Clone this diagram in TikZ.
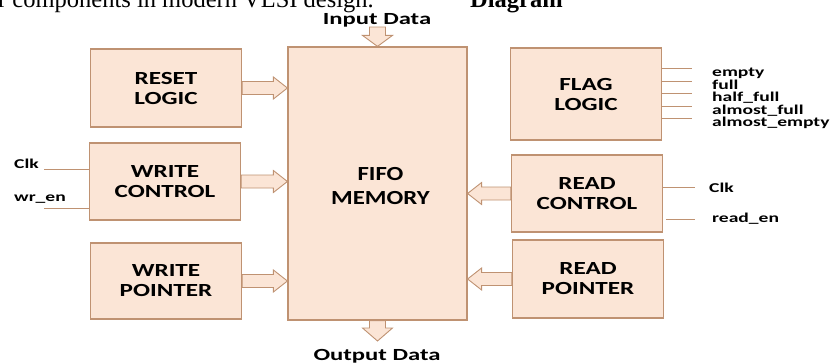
\documentclass[tikz,border=0pt]{standalone}
\usepackage{fontspec}
\setmainfont{Liberation Serif}
\newfontfamily\lblfont{Carlito}[FakeStretch=1.36]
\newfontfamily\fifofont{Carlito}[FakeStretch=1.24]
\newfontfamily\sigfont{Carlito}[FakeStretch=1.45]
\usetikzlibrary{calc}
\definecolor{boxfill}{HTML}{FBE5D6}
\definecolor{boxline}{HTML}{BF9272}
\tikzset{
  blk/.style={draw=boxline, fill=boxfill, line width=1.2pt, minimum width=151pt,
    minimum height=77pt, align=center, inner sep=0pt,
    font=\lblfont\bfseries\fontsize{18.5}{20}\selectfont},
  barrow/.style={draw=boxline, fill=boxfill, line width=0.9pt, line join=miter},
  sig/.style={draw=boxline, line width=0.9pt},
  siglbl/.style={inner sep=0pt, font=\sigfont\bfseries\fontsize{13.5}{15}\selectfont},
  datalbl/.style={inner sep=0pt, font=\sigfont\bfseries\fontsize{17}{19}\selectfont},
  toptxt/.style={inner sep=0pt, font=\fontsize{24.5}{28}\selectfont}
}
% horizontal block arrow: start, end, shaft half, head half, head length
\newcommand\hbarrow[5]{%
  \draw[barrow] let \p1=(#1), \p2=(#2), \n1={sign(\x2-\x1)*#5} in
  (\x1,\y1-#3pt) -- (\x2-\n1*1pt,\y1-#3pt) -- (\x2-\n1*1pt,\y1-#4pt) -- (\x2,\y1)
  -- (\x2-\n1*1pt,\y1+#4pt) -- (\x2-\n1*1pt,\y1+#3pt) -- (\x1,\y1+#3pt) -- cycle;}
% vertical block arrow
\newcommand\vbarrow[5]{%
  \draw[barrow] let \p1=(#1), \p2=(#2), \n1={sign(\y2-\y1)*#5} in
  (\x1-#3pt,\y1) -- (\x1-#3pt,\y2-\n1*1pt) -- (\x1-#4pt,\y2-\n1*1pt) -- (\x1,\y2)
  -- (\x1+#4pt,\y2-\n1*1pt) -- (\x1+#3pt,\y2-\n1*1pt) -- (\x1+#3pt,\y1) -- cycle;}
\begin{document}
\begin{tikzpicture}[x=1pt,y=-1pt]
\useasboundingbox (0,0) rectangle (839,364);
\begin{scope}
  \clip (0,0) rectangle (839,364);
  \node[toptxt, anchor=base west] (cap) at (-2,8) {r components in modern VLSI design.};
  \node[toptxt, anchor=base west, font=\fontsize{24.5}{28}\selectfont\bfseries] (diag) at (470,7) {Diagram};
\end{scope}

% blocks
\node[blk, minimum height=78pt] (reset) at (166,88) {RESET\\LOGIC};
\node[blk] (wctrl) at (165,181.5) {WRITE\\CONTROL};
\node[blk, minimum height=76pt] (wptr) at (166,281) {WRITE\\POINTER};
\node[blk, minimum width=179pt, minimum height=273pt] (fifo) at (377.5,183.5) {};
\node[inner sep=0pt, align=center, font=\fifofont\bfseries\fontsize{20}{24}\selectfont]
  (fifotxt) at ($(fifo.center)+(3,3)$) {FIFO\\MEMORY};
\node[blk, minimum height=92pt] (flag) at (586,94) {FLAG\\LOGIC};
\node[blk] (rctrl) at (587,193.5) {READ\\CONTROL};
\node[blk, minimum height=78pt] (rptr) at (588,279) {READ\\POINTER};

% data labels and arrows
\node[datalbl, anchor=base] (indata) at (377,24) {Input Data};
\node[datalbl, anchor=base] (outdata) at (377,360) {Output Data};
\coordinate (inTop) at (377.5,27);
\coordinate (outTip) at (377.5,341);
\vbarrow{inTop}{fifo.north}{8}{15}{11}
\vbarrow{fifo.south}{outTip}{8}{15}{13}

% block arrows
\hbarrow{reset.east}{fifo.west |- reset.east}{6.5}{11}{14}
\hbarrow{wctrl.east}{fifo.west |- wctrl.east}{6.5}{11}{14}
\hbarrow{wptr.east}{fifo.west |- wptr.east}{6.5}{11}{14}
\hbarrow{rctrl.west}{fifo.east |- rctrl.west}{6.5}{11}{14}
\hbarrow{rptr.west}{fifo.east |- rptr.west}{6.5}{11}{14}

% write-side signals
\node[siglbl, anchor=base west] (wclk) at (14,168) {Clk};
\node[siglbl, anchor=base west] (wren) at (14,201) {wr\_en};
\coordinate (wclkL) at (44,169);
\coordinate (wrenL) at (44,208);
\draw[sig] (wclkL) -- (wclkL -| wctrl.west);
\draw[sig] (wrenL) -- (wrenL -| wctrl.west);

% flag outputs
\foreach \yy/\nm/\txt in {68/fe/empty, 81/ff/full, 93/fh/half\_full, 106/fa/almost\_full, 118/fm/almost\_empty}{
  \coordinate (\nm L) at (692,\yy);
  \draw[sig] (\nm L -| flag.east) -- (\nm L);
  \node[siglbl, anchor=base west] (\nm) at (712,\yy+8.5) {\txt};
}

% read-side signals
\coordinate (rclkR) at (695,187);
\coordinate (rrenR) at (695,219);
\draw[sig] (rclkR -| rctrl.east) -- (rclkR);
\draw[sig] (rrenR -| rctrl.east) ++(3,0) -- (rrenR);
\node[siglbl, anchor=base west] (rclk) at (709,192) {Clk};
\node[siglbl, anchor=base west] (rren) at (712,222) {read\_en};
\end{tikzpicture}
\end{document}
